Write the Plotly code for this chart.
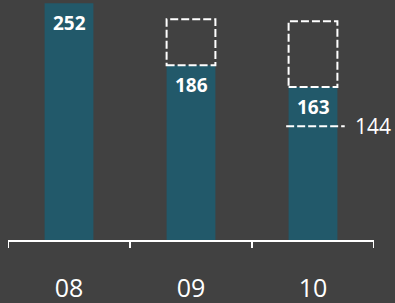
import plotly.graph_objects as go

categories = ["08", "09", "10"]
values = [252, 186, 163]
targets = [None, 235, 233]
marker_level = 121
marker_label = "144"

BG = "#414141"
BAR = "#22596a"
FONT = "Open Sans"
DASH = "8px,3px"

fig = go.Figure()
fig.add_trace(go.Bar(
    x=list(range(len(categories))), y=values, width=0.4,
    marker=dict(color=BAR, line=dict(width=0)),
    hoverinfo="skip",
))

# value labels inside bars
for i, v in enumerate(values):
    fig.add_annotation(x=i, y=v, text=f"<b>{v}</b>", showarrow=False,
                       yanchor="top", yshift=-5,
                       font=dict(family=FONT, size=19, color="white"))

# dashed target boxes
for i, t in enumerate(targets):
    if t is None:
        continue
    fig.add_shape(type="rect", xref="x", yref="y",
                  x0=i - 0.2, x1=i + 0.2, y0=values[i], y1=t,
                  line=dict(color="white", width=2, dash=DASH),
                  fillcolor="rgba(0,0,0,0)")

# dashed marker line on last bar
last = len(values) - 1
fig.add_shape(type="line", xref="x", yref="y",
              x0=last - 0.22, x1=last + 0.26, y0=marker_level, y1=marker_level,
              line=dict(color="white", width=2, dash=DASH))
fig.add_annotation(x=last + 0.33, y=marker_level, text=marker_label,
                   showarrow=False, xanchor="left", yanchor="middle",
                   font=dict(family=FONT, size=21, color="white"))

fig.update_layout(
    width=395, height=303,
    margin=dict(l=8, r=21, t=0, b=63),
    paper_bgcolor=BG, plot_bgcolor=BG,
    showlegend=False,
    xaxis=dict(
        range=[-0.5, 2.5],
        tickmode="array",
        tickvals=list(range(len(categories))),
        ticktext=categories,
        showgrid=False, zeroline=False,
        showline=True, linecolor="white", linewidth=2,
        ticks="", ticklabelstandoff=25,
        tickfont=dict(family=FONT, size=25, color="white"),
    ),
    yaxis=dict(range=[0, 255.5], visible=False, showgrid=False, zeroline=False),
)

# boundary ticks
for b in [-0.5, 0.5, 1.5, 2.5]:
    fig.add_shape(type="line", xref="x", yref="paper",
                  x0=b, x1=b, y0=0, y1=-8 / 240,
                  line=dict(color="white", width=2))

fig.write_html("out.html",
               config={"displayModeBar": False, "staticPlot": True},
               post_script="document.body.style.margin='0';document.body.style.overflow='hidden';")
